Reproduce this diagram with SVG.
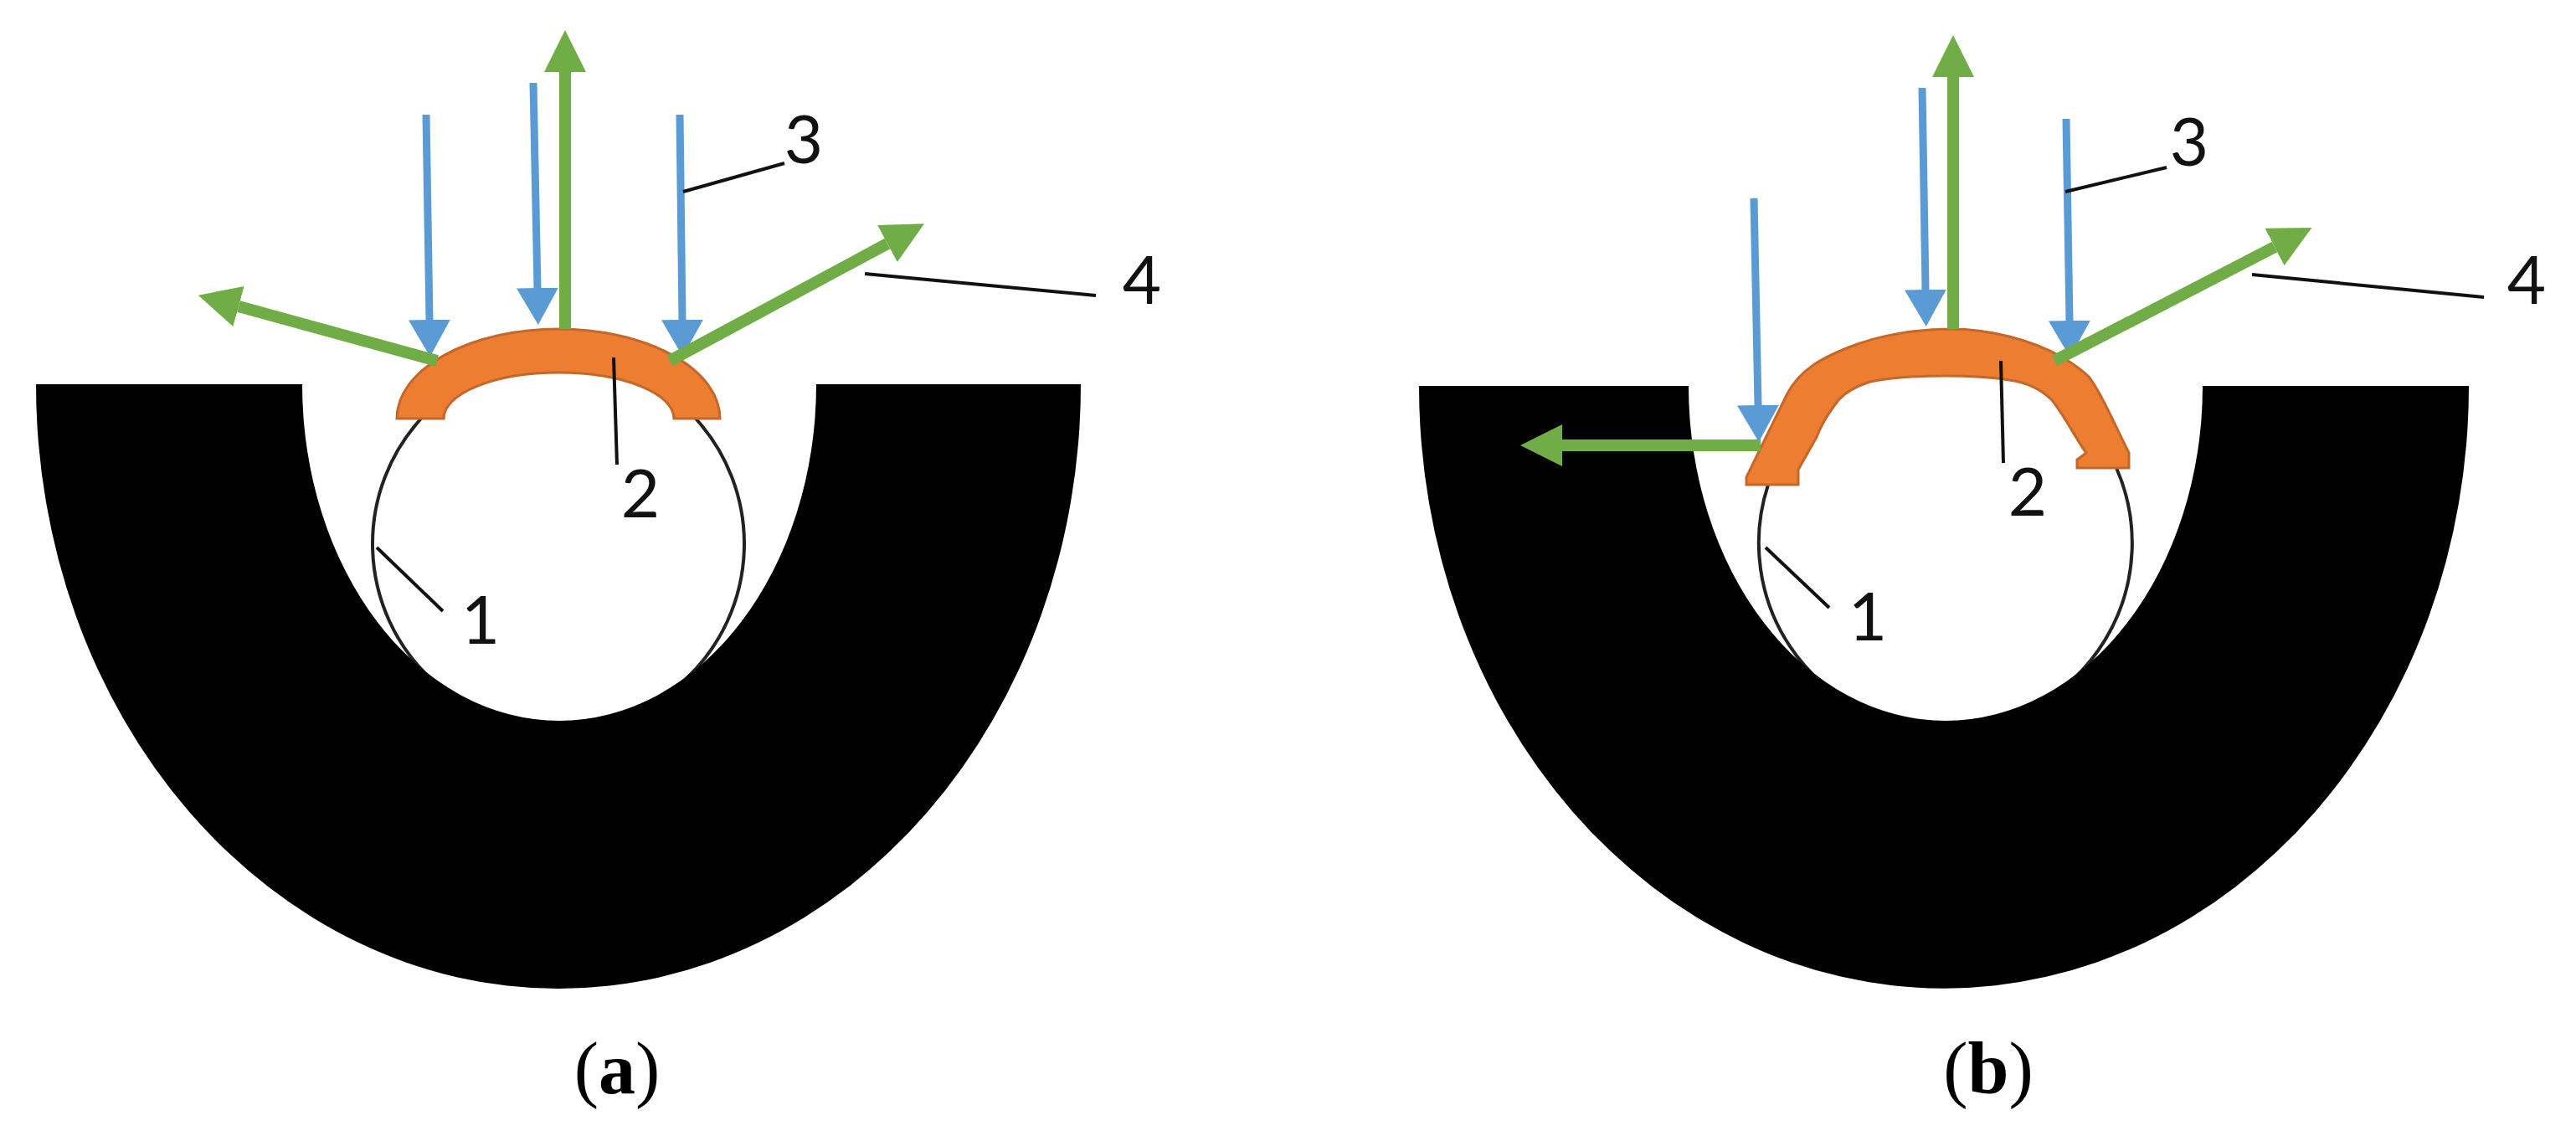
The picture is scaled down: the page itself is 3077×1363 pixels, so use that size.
<svg xmlns="http://www.w3.org/2000/svg" width="3077" height="1363" viewBox="0 0 3077 1363">
<style>
.u{fill:#000}
.ball{fill:none;stroke:#222;stroke-width:4}
.cap{fill:#ED7D31;stroke:#C4672A;stroke-width:3;stroke-linejoin:miter}
.blue{stroke:#5B9BD5;stroke-width:9;fill:none}
.green{stroke:#70AD47;stroke-width:14;fill:none}
.lead{stroke:#111;stroke-width:4;fill:none}
.n{font-family:"Lato","Liberation Sans",sans-serif;font-size:80px;fill:#111;text-anchor:middle}
.cp{font-family:"Liberation Serif","Times New Roman",serif;font-size:88px;fill:#000;text-anchor:middle}
.cp tspan{font-weight:bold}
</style>
<defs>
<marker id="hb" markerUnits="userSpaceOnUse" markerWidth="46" markerHeight="52" refX="0" refY="26" orient="auto"><polygon points="0,1 44,26 0,51" fill="#5B9BD5"/></marker>
<marker id="hg" markerUnits="userSpaceOnUse" markerWidth="52" markerHeight="52" refX="0" refY="26" orient="auto"><polygon points="0,1 50,26 0,51" fill="#70AD47"/></marker>
</defs>
<rect width="3077" height="1363" fill="#fff"/>
<g id="figure-a">
<g id="ball-a"><path class="ball" d="M503,500 A222,222 0 1 0 831,500"/></g>
<g id="holder-a"><path class="u" d="M43,459 H361 A307,402 0 0 0 975,459 H1291 A624,722 0 0 1 43,459 Z"/></g>
<g id="cap-a"><path class="cap" d="M474,500 A193,107 0 0 1 860,500 H805 A137.500,55 0 0 0 530,500 Z"/></g>
<g id="connectors-a">
<line class="blue" x1="509" y1="137" x2="513" y2="382" marker-end="url(#hb)"/>
<line class="blue" x1="637" y1="99" x2="642" y2="344" marker-end="url(#hb)"/>
<line class="blue" x1="812" y1="137" x2="815" y2="382" marker-end="url(#hb)"/>
<line class="green" x1="675" y1="393" x2="675" y2="86" marker-end="url(#hg)"/>
<line class="green" x1="522" y1="431" x2="285" y2="366" marker-end="url(#hg)"/>
<line class="green" x1="800" y1="431" x2="1060" y2="291" marker-end="url(#hg)"/>
<line class="lead" x1="816" y1="229" x2="937" y2="195"/>
<line class="lead" x1="1033" y1="327" x2="1309" y2="353"/>
<line class="lead" x1="733" y1="427" x2="737" y2="555"/>
<line class="lead" x1="450" y1="654" x2="529" y2="730"/>
</g>
<text class="n" x="960" y="195">3</text>
<text class="n" x="1364" y="363">4</text>
<text class="n" x="765" y="618">2</text>
<text class="n" x="574" y="769">1</text>
<text class="cp" x="737" y="1306">(<tspan>a</tspan>)</text>
</g>
<g id="figure-b">
<g id="ball-b"><path class="ball" d="M2112,579 A223,223 0 1 0 2528,559"/></g>
<g id="holder-b"><path class="u" d="M1695,461 H2017 A307,400 0 0 0 2631,461 H2949 A627,720 0 0 1 1695,461 Z"/></g>
<g id="cap-b"><path class="cap" d="M2086,579 V570 L2135,470 C2150,442 2175,428 2208,415 C2245,400 2290,393 2330,393 C2375,393 2425,405 2464,427 C2480,437 2490,445 2495,450 C2510,470 2525,505 2543,541 V559 H2481 V549 L2492,541 C2482,528 2465,495 2451,478 C2435,462 2415,456 2400,454 C2375,450 2350,449 2323,449 C2290,449 2260,451 2234,456 C2218,461 2205,468 2196,478 C2185,492 2176,506 2170,522 L2148,561 V579 Z"/></g>
<g id="connectors-b">
<line class="blue" x1="2095" y1="237" x2="2100" y2="484" marker-end="url(#hb)"/>
<line class="blue" x1="2296" y1="105" x2="2300" y2="346" marker-end="url(#hb)"/>
<line class="blue" x1="2468" y1="142" x2="2472" y2="383" marker-end="url(#hb)"/>
<line class="green" x1="2333" y1="393" x2="2333" y2="92" marker-end="url(#hg)"/>
<line class="green" x1="2103" y1="532" x2="1866" y2="532" marker-end="url(#hg)"/>
<line class="green" x1="2454" y1="431" x2="2717" y2="295" marker-end="url(#hg)"/>
<line class="lead" x1="2467" y1="229" x2="2588" y2="200"/>
<line class="lead" x1="2690" y1="328" x2="2967" y2="355"/>
<line class="lead" x1="2390" y1="431" x2="2393" y2="553"/>
<line class="lead" x1="2109" y1="654" x2="2185" y2="726"/>
</g>
<text class="n" x="2615" y="198">3</text>
<text class="n" x="3018" y="363">4</text>
<text class="n" x="2422" y="616">2</text>
<text class="n" x="2231" y="765">1</text>
<text class="cp" x="2375" y="1306">(<tspan>b</tspan>)</text>
</g>
</svg>
